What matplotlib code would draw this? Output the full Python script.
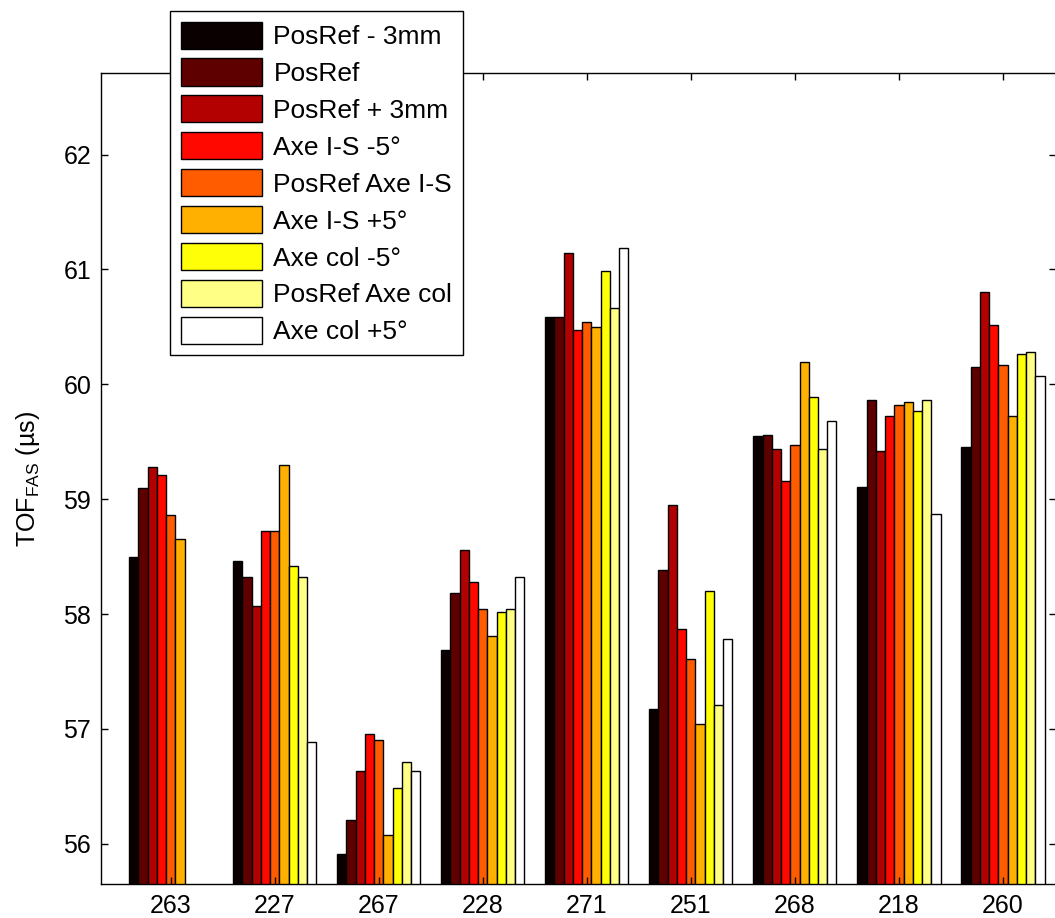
import numpy as np
import matplotlib
matplotlib.use('Agg')
import matplotlib.pyplot as plt

# ----------------- 数据 -----------------
groups = ['263', '227', '267', '228', '271', '251', '268', '218', '260']
series = ['PosRef - 3mm', 'PosRef', 'PosRef + 3mm', 'Axe I-S -5°', 'PosRef Axe I-S',
          'Axe I-S +5°', 'Axe col -5°', 'PosRef Axe col', 'Axe col +5°']

posref_m3 = [58.50, 58.46, 55.91, 57.69, 60.59, 57.17, 59.55, 59.11, 59.45]
posref = [59.10, 58.32, 56.21, 58.18, 60.59, 58.38, 59.56, 59.86, 60.15]
posref_p3 = [59.28, 58.07, 56.63, 58.56, 61.14, 58.95, 59.44, 59.42, 60.80]
axe_is_m5 = [59.21, 58.72, 56.96, 58.28, 60.47, 57.87, 59.16, 59.72, 60.52]
posref_axe_is = [58.86, 58.72, 56.90, 58.04, 60.54, 57.61, 59.47, 59.82, 60.17]
axe_is_p5 = [58.65, 59.30, 56.08, 57.81, 60.50, 57.04, 60.19, 59.85, 59.72]
axe_col_m5 = [np.nan, 58.42, 56.49, 58.02, 60.99, 58.20, 59.89, 59.77, 60.26]
posref_axe_col = [np.nan, 58.32, 56.71, 58.04, 60.66, 57.21, 59.44, 59.86, 60.28]
axe_col_p5 = [np.nan, 56.89, 56.63, 58.32, 61.19, 57.78, 59.68, 58.87, 60.07]

values = [posref_m3, posref, posref_p3, axe_is_m5, posref_axe_is,
          axe_is_p5, axe_col_m5, posref_axe_col, axe_col_p5]

y_ticks = [56, 57, 58, 59, 60, 61, 62]

# ----------------- 绘图 -----------------
plt.rcParams['font.family'] = ['Liberation Sans', 'DejaVu Sans']
plt.rcParams['mathtext.fontset'] = 'custom'
plt.rcParams['mathtext.rm'] = 'Liberation Sans'
fig = plt.figure(figsize=(10.55, 9.18), dpi=100)
ax = fig.add_axes([101 / 1055, 34 / 918, 955 / 1055, 811 / 918])

colors = plt.get_cmap('hot')(np.linspace(0, 1, len(series)))
n = len(series)
w = 0.8 / n
x = np.arange(1, len(groups) + 1)
for j, (name, vals) in enumerate(zip(series, values)):
    ax.bar(x + (j - (n - 1) / 2) * w, vals, width=w, color=colors[j],
           edgecolor='black', linewidth=1.0, label=name)

ax.set_xlim(0.33, 9.51)
ax.set_ylim(55.65, 62.71)
ax.set_xticks(x)
ax.set_xticklabels(groups)
ax.set_yticks(y_ticks)
ax.tick_params(direction='in', length=5, width=1, labelsize=18,
               top=True, right=True, pad=7)
for s in ax.spines.values():
    s.set_linewidth(1.0)
ax.set_ylabel('TOF$_{\\mathrm{FAS}}$ (µs)', fontsize=18)
ax.yaxis.set_label_coords(-0.062, 0.5)

# 图例（部分伸出坐标区上方）
leg = ax.legend(loc='upper left', bbox_to_anchor=(170 / 1055, 1 - 11 / 918),
                bbox_transform=fig.transFigure, borderaxespad=0, fontsize=19,
                handlelength=3.1, handleheight=1.2, labelspacing=0.36,
                handletextpad=0.42, borderpad=0.4, fancybox=False,
                framealpha=1, edgecolor='black')
leg.get_frame().set_linewidth(1.0)

fig.savefig('out.png', dpi=100)
